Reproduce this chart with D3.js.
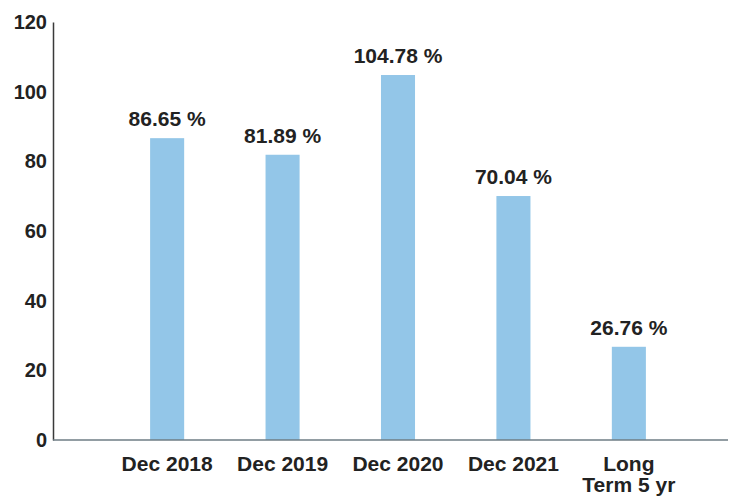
<!DOCTYPE html>
<meta charset="utf-8">
<script src="https://d3js.org/d3.v7.min.js"></script>
<style>
  body { margin: 0; background: #fff; }
  text { font-family: "Liberation Sans", Arial, sans-serif; font-weight: bold; fill: #222; }
</style>
<div id="chart"></div>
<script>
  // data
  const categories = ["Dec 2018", "Dec 2019", "Dec 2020", "Dec 2021", "Long Term 5 yr"];
  const categoryLines = [["Dec 2018"], ["Dec 2019"], ["Dec 2020"], ["Dec 2021"], ["Long", "Term 5 yr"]];
  const values = [86.65, 81.89, 104.78, 70.04, 26.76];
  const yTicks = [0, 20, 40, 60, 80, 100, 120];

  const width = 740, height = 497;
  const axisX = 53, baseY = 440, topY = 22, axisEnd = 728;

  const svg = d3.select("#chart")
    .append("svg")
    .attr("width", width)
    .attr("height", height);

  const x = d3.scaleBand()
    .domain(categories)
    .range([52, 744])
    .paddingInner(0.705)
    .paddingOuter(0.85);

  const y = d3.scaleLinear()
    .domain([0, 120])
    .range([baseY, topY]);

  // bars
  svg.selectAll(".bar")
    .data(values)
    .join("rect")
    .attr("class", "bar")
    .attr("x", (d, i) => x(categories[i]))
    .attr("width", x.bandwidth())
    .attr("y", d => y(d))
    .attr("height", d => y(0) - y(d))
    .attr("fill", "#93c6e8");

  // value labels
  svg.selectAll(".val")
    .data(values)
    .join("text")
    .attr("class", "val")
    .attr("x", (d, i) => x(categories[i]) + x.bandwidth() / 2)
    .attr("y", d => y(d) - 12)
    .attr("text-anchor", "middle")
    .style("font-size", "21px")
    .text(d => d.toFixed(2) + " %");

  // y axis
  const yAxis = svg.append("g")
    .attr("transform", `translate(${axisX},0)`)
    .call(d3.axisLeft(y).tickValues(yTicks).tickSize(0).tickPadding(6));
  yAxis.select(".domain").attr("stroke", "#3a3a3a").attr("stroke-width", 1.5);
  yAxis.selectAll("text")
    .style("font-size", "20px")
    .style("font-family", "Liberation Sans, Arial, sans-serif")
    .style("font-weight", "bold")
    .attr("fill", "#222");

  // x axis line
  svg.append("line")
    .attr("x1", axisX).attr("x2", axisEnd)
    .attr("y1", baseY).attr("y2", baseY)
    .attr("stroke", "#6e7c84")
    .attr("stroke-width", 1.5);

  // x category labels
  const xl = svg.selectAll(".xl")
    .data(categoryLines)
    .join("text")
    .attr("class", "xl")
    .attr("text-anchor", "middle")
    .attr("x", (d, i) => x(categories[i]) + x.bandwidth() / 2)
    .attr("y", baseY + 31)
    .style("font-size", "21px");
  xl.selectAll("tspan")
    .data(d => d)
    .join("tspan")
    .attr("x", function () { return this.parentNode.getAttribute("x"); })
    .attr("dy", (d, i) => i === 0 ? 0 : 21)
    .text(d => d);
</script>
